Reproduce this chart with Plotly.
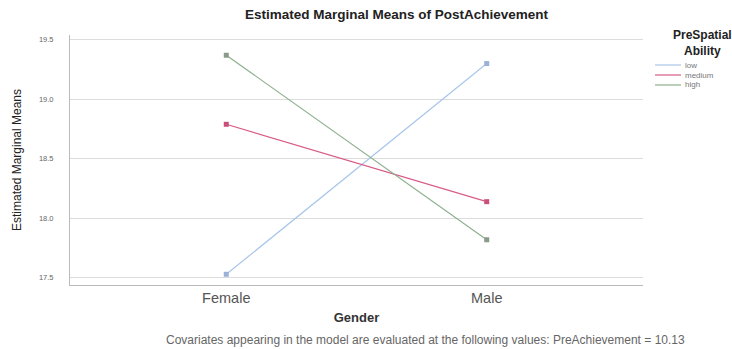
import plotly.graph_objects as go

# Estimated marginal means of PostAchievement by gender and spatial-ability group
genders = ["Female", "Male"]
ability_levels = ["low", "medium", "high"]
means_low = [17.53, 19.30]
means_medium = [18.79, 18.14]
means_high = [19.37, 17.82]
y_ticks = [17.5, 18.0, 18.5, 19.0, 19.5]
covariate_note = "Covariates appearing in the model are evaluated at the following values: PreAchievement = 10.13"

series = [
    (ability_levels[0], means_low, "#a9c6ea", "#9ab0d8"),
    (ability_levels[1], means_medium, "#d95b87", "#c9507c"),
    (ability_levels[2], means_high, "#8db08d", "#8a9a8a"),
]

# plot area in pixels
W, H = 732, 349
L, R, T, B = 70, 89, 35, 64
PW, PH = W - L - R, H - T - B


def px_x(px):
    return (px - L) / PW


def px_y(py):
    return (H - B - py) / PH


fig = go.Figure()
for name, vals, line_col, mk_col in series:
    fig.add_trace(go.Scatter(
        x=genders, y=vals, name=name, mode="lines+markers",
        line=dict(color=line_col, width=1.2),
        marker=dict(symbol="square", size=5, color=mk_col),
        showlegend=False,
    ))

fig.update_layout(
    width=W, height=H,
    margin=dict(l=L, r=R, t=T, b=B),
    paper_bgcolor="white", plot_bgcolor="white",
    font=dict(family="Arial, Liberation Sans, sans-serif", color="#333"),
    xaxis=dict(
        type="category", range=[-0.6, 1.6],
        showgrid=False, showline=True, linecolor="#bbb", linewidth=1,
        ticks="", tickfont=dict(size=14.5, color="#555"),
        title=dict(text="<b>Gender</b>", font=dict(size=13, color="#333"), standoff=7),
    ),
    yaxis=dict(
        range=[17.44, 19.54], tickvals=y_ticks, tickformat=".1f",
        showgrid=True, gridcolor="#dcdcdc", gridwidth=1,
        showline=True, linecolor="#bbb", linewidth=1, zeroline=False,
        ticks="", tickfont=dict(size=7.5, color="#666"), ticklabelstandoff=14,
        title=dict(text="Estimated Marginal Means", font=dict(size=12, color="#222"), standoff=14),
    ),
)

# chart title
fig.add_annotation(
    text="<b>Estimated Marginal Means of PostAchievement</b>",
    xref="paper", yref="paper", x=px_x(397), y=px_y(15),
    xanchor="center", yanchor="middle", showarrow=False,
    font=dict(size=13.5, color="#222"),
)
# covariate footnote
fig.add_annotation(
    text=covariate_note,
    xref="paper", yref="paper", x=px_x(425), y=px_y(340),
    xanchor="center", yanchor="middle", showarrow=False,
    font=dict(size=12, color="#666"),
)

# legend: title and line samples
fig.add_annotation(
    text="<b>PreSpatial<br>Ability</b>",
    xref="paper", yref="paper", x=px_x(702), y=px_y(43),
    xanchor="center", yanchor="middle", showarrow=False,
    font=dict(size=12, color="#222"),
)
legend_rows = [65, 75, 85]
for (name, _, line_col, _), ry in zip(series, legend_rows):
    fig.add_shape(
        type="line", xref="paper", yref="paper",
        x0=px_x(655), x1=px_x(681), y0=px_y(ry), y1=px_y(ry),
        line=dict(color=line_col, width=1.2),
    )
    fig.add_annotation(
        text=name, xref="paper", yref="paper", x=px_x(683), y=px_y(ry),
        xanchor="left", yanchor="middle", showarrow=False,
        font=dict(size=8, color="#777"),
    )

fig.write_html("out.html")
